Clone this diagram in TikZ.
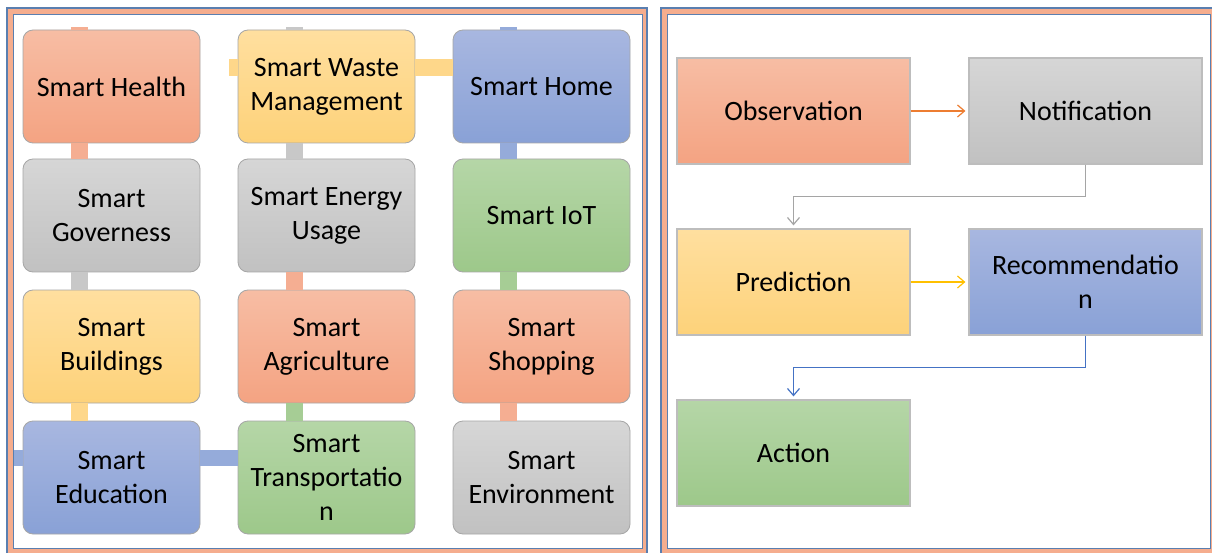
\documentclass[tikz,border=0pt]{standalone}
\usepackage{fontspec}
\setmainfont{Carlito}
\usetikzlibrary{arrows.meta,calc}
\definecolor{salT}{HTML}{F7BDA4}
\definecolor{salB}{HTML}{F4A382}
\definecolor{salM}{HTML}{F5AE92}
\definecolor{grT}{HTML}{D6D6D6}
\definecolor{grB}{HTML}{C1C1C1}
\definecolor{grM}{HTML}{C8C8C8}
\definecolor{yeT}{HTML}{FFDF9F}
\definecolor{yeB}{HTML}{FDD27A}
\definecolor{yeM}{HTML}{FED78A}
\definecolor{blT}{HTML}{A8B7E0}
\definecolor{blB}{HTML}{89A1D6}
\definecolor{blM}{HTML}{95ABDA}
\definecolor{gnT}{HTML}{B5D6A7}
\definecolor{gnB}{HTML}{9DC88A}
\definecolor{gnM}{HTML}{A6CD95}
\definecolor{frameblue}{HTML}{5A7FB0}
\definecolor{band}{HTML}{F5AD8E}
\definecolor{tileborder}{HTML}{A6A6A6}
\definecolor{boxborder}{HTML}{BDBDBD}
\definecolor{arOrange}{HTML}{ED7D31}
\definecolor{arGray}{HTML}{A5A5A5}
\definecolor{arYellow}{HTML}{FFC000}
\definecolor{arBlue}{HTML}{4472C4}
\begin{document}
\begin{tikzpicture}[x=1pt,y=-1pt,
  txt/.style={align=center,font=\fontsize{28}{34}\selectfont,text=black,inner sep=1pt},
  tile/.style={txt,rounded corners=10pt,draw=tileborder,line width=0.8pt,minimum width=177pt,minimum height=113pt},
  rbox/.style={txt,draw=boxborder,line width=1.2pt,minimum width=233pt,minimum height=106pt},
  sal/.style={top color=salT,bottom color=salB},
  gry/.style={top color=grT,bottom color=grB},
  yel/.style={top color=yeT,bottom color=yeB},
  blu/.style={top color=blT,bottom color=blB},
  grn/.style={top color=gnT,bottom color=gnB},
  bar/.style={line width=16.5pt},
  flow/.style={line width=1.2pt,-{Straight Barb[length=7pt,width=12pt]},shorten >=3pt}
]
\useasboundingbox (0,0) rectangle (1212,553);
\clip (0,0) rectangle (1212,553);
% frames
\fill[band] (7,8) rectangle (647,557);
\fill[white] (13,15) rectangle (642,548);
\draw[frameblue,line width=1.4pt] (7,8) rectangle (647,557);
\draw[frameblue,line width=1pt] (13,15) rectangle (642,548);
\fill[band] (661,8) rectangle (1217,557);
\fill[white] (667,15) rectangle (1210,548);
\draw[frameblue,line width=1.4pt] (661,8) rectangle (1217,557);
\draw[frameblue,line width=1pt] (667,15) rectangle (1210,548);
\coordinate (eduL) at (13.5,458);
% tiles
\path
 (111.5,86.5)  node[tile,sal] (h)  {Smart Health}
 (326.5,86.5)  node[tile,yel] (w)  {Smart Waste\\Management}
 (541.5,86.5)  node[tile,blu] (ho) {Smart Home}
 (111.5,215.5) node[tile,gry] (g)  {Smart\\Governess}
 (326.5,215.5) node[tile,gry] (e)  {Smart Energy\\Usage}
 (541.5,215.5) node[tile,grn] (i)  {Smart IoT}
 (111.5,346.5) node[tile,yel] (b)  {Smart\\Buildings}
 (326.5,346.5) node[tile,sal] (a)  {Smart\\Agriculture}
 (541.5,346.5) node[tile,sal] (s)  {Smart\\Shopping}
 (111.5,477.5) node[tile,blu] (ed) {Smart\\Education}
 (326.5,477.5) node[tile,grn] (t)  {Smart\\Transportatio\\n}
 (541.5,477.5) node[tile,gry] (en) {Smart\\Environment};
% bars
\draw[bar,salM] ([xshift=-32pt]h.north) -- ++(0,-2.5);
\draw[bar,grM]  ([xshift=-32pt]w.north) -- ++(0,-2.5);
\draw[bar,blM]  ([xshift=-33pt]ho.north) -- ++(0,-2.5);
\draw[bar,salM] ([xshift=-32pt]h.south) -- ([xshift=-32pt]g.north);
\draw[bar,grM]  ([xshift=-32pt]w.south) -- ([xshift=-32pt]e.north);
\draw[bar,blM]  ([xshift=-33pt]ho.south) -- ([xshift=-33pt]i.north);
\draw[bar,grM]  ([xshift=-32pt]g.south) -- ([xshift=-32pt]b.north);
\draw[bar,salM] ([xshift=-32pt]e.south) -- ([xshift=-32pt]a.north);
\draw[bar,gnM]  ([xshift=-33pt]i.south) -- ([xshift=-33pt]s.north);
\draw[bar,yeM]  ([xshift=-32pt]b.south) -- ([xshift=-32pt]ed.north);
\draw[bar,gnM]  ([xshift=-32pt]a.south) -- ([xshift=-32pt]t.north);
\draw[bar,salM] ([xshift=-33pt]s.south) -- ([xshift=-33pt]en.north);
\draw[bar,yeM]  ([yshift=19pt]w.west) -- ++(-9,0);
\draw[bar,yeM]  ([yshift=19pt]w.east) -- ([yshift=19pt]ho.west);
\draw[bar,blM]  (eduL) -- ([yshift=19.5pt]ed.west);
\draw[bar,blM]  ([yshift=19.5pt]ed.east) -- ([yshift=19.5pt]t.west);
% right panel
\path
 (793.5,111)  node[rbox,sal] (ob) {Observation}
 (1085.5,111) node[rbox,gry] (no) {Notification}
 (793.5,282)  node[rbox,yel] (pr) {Prediction}
 (1085.5,282) node[rbox,blu] (re) {Recommendatio\\n}
 (793.5,453)  node[rbox,grn] (ac) {Action};
\draw[flow,arOrange] (ob.east) -- (no.west);
\draw[flow,arYellow] (pr.east) -- (re.west);
\draw[flow,arGray] (no.south) -- ++(0,32) -| (pr.north);
\draw[flow,arBlue] (re.south) -- ++(0,32) -| (ac.north);
\end{tikzpicture}
\end{document}
